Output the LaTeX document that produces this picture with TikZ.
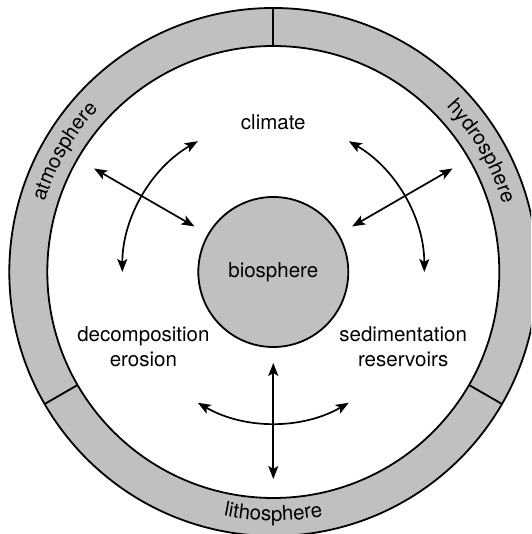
\documentclass[tikz,border=0pt]{standalone}
\usepackage{fontspec}
\setmainfont{TeX Gyre Heros}
\usetikzlibrary{arrows.meta,decorations.text}
\definecolor{ringgray}{RGB}{192,192,192}
\newcommand{\lblfont}{\fontsize{20.5}{25}\selectfont}
\begin{document}
\begin{tikzpicture}[
  line width=1.8pt,
  lbl/.style={font=\lblfont, align=center, inner sep=0pt},
  twoway/.style={{Stealth[length=13pt,width=10pt,inset=3pt]}-{Stealth[length=13pt,width=10pt,inset=3pt]}, line width=1.7pt},
  arclabel/.style={decorate, decoration={text along path, text align=center, text={#1}}}
]
\useasboundingbox (0pt,0pt) rectangle (531pt,534pt);
\clip (0pt,0pt) rectangle (531pt,534pt);
\coordinate (C) at (273.3pt,262pt);
% ring
\filldraw[fill=ringgray, draw=black] (C) circle[radius=264pt];
\filldraw[fill=white, draw=black] (C) circle[radius=226pt];
\foreach \a in {90,210,330}
  \draw ([shift={(C)}]\a:226pt) -- ([shift={(C)}]\a:264pt);
% ring labels
\path[arclabel={|\lblfont|atmosphere}] ([shift={(C)}]175:239pt) arc[start angle=175, end angle=125, radius=239pt];
\path[arclabel={|\lblfont|hydrosphere}] ([shift={(C)}]55:239pt) arc[start angle=55, end angle=5, radius=239pt];
\path[arclabel={|\lblfont|lithosphere}] ([shift={(C)}]245:249pt) arc[start angle=245, end angle=295, radius=249pt];
% centre
\node[circle, draw, fill=ringgray, minimum size=150pt, lbl] (bio) at (C) {biosphere};
% labels
\node[lbl] (climate) at ([shift={(C)}]90:150pt) {climate};
\node[lbl] (decomp) at ([shift={(C)}]210:150pt) {decomposition\\erosion};
\node[lbl] (sedim) at ([shift={(C)}]330:150pt) {sedimentation\\reservoirs};
% radial arrows
\foreach \a/\n in {150/l,30/r,270/b} {
  \coordinate (in\n) at ([shift={(C)}]\a:91pt);
  \coordinate (out\n) at ([shift={(C)}]\a:207pt);
  \draw[twoway] (in\n) -- (out\n);
}
% curved arrows
\foreach \s/\n in {120/l,0/r,240/b} {
  \coordinate (arc\n) at ([shift={(C)}]\s:151pt);
  \draw[twoway] (arc\n) arc[start angle=\s, end angle=\s+60, radius=151pt];
}
\end{tikzpicture}
\end{document}
